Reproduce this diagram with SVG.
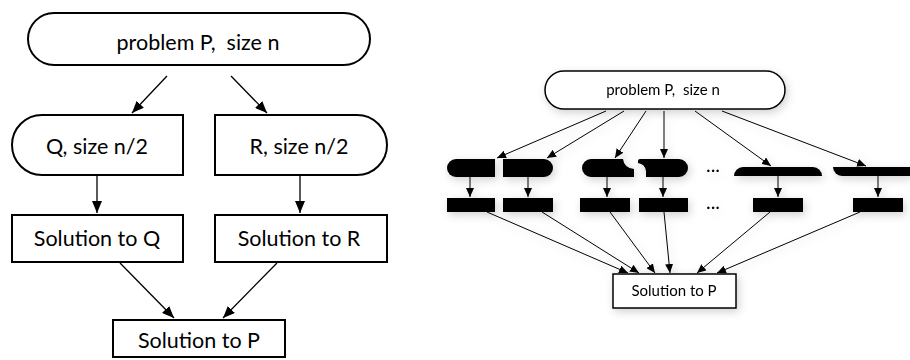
<svg xmlns="http://www.w3.org/2000/svg" width="910" height="360" viewBox="0 0 910 360">
<defs>
<marker id="ahL" markerUnits="userSpaceOnUse" markerWidth="12" markerHeight="10" refX="12" refY="5" orient="auto">
<path d="M0,0 L12,5 L0,10 Z" fill="#000"/>
</marker>
<marker id="ahS" markerUnits="userSpaceOnUse" markerWidth="9" markerHeight="8" refX="9" refY="4" orient="auto">
<path d="M0,0 L9,4 L0,8 Z" fill="#000"/>
</marker>
<filter id="sh" x="-20%" y="-40%" width="140%" height="180%">
<feDropShadow dx="2" dy="3" stdDeviation="4" flood-color="#000" flood-opacity="0.18"/>
</filter>
</defs>
<style>
.nodeL{fill:#fff;stroke:#000;stroke-width:2}
.nodeS{fill:#fff;stroke:#000;stroke-width:1.5}
.blk{fill:#000}
.tL{font-family:Lato,"Open Sans","DejaVu Sans",sans-serif;font-size:21.5px;fill:#000;text-anchor:middle}
.tS{font-family:Lato,"Open Sans","DejaVu Sans",sans-serif;font-size:15px;fill:#000;text-anchor:middle}
.cL{stroke:#000;stroke-width:1.3;fill:none;marker-end:url(#ahL)}
.cS{stroke:#000;stroke-width:1;fill:none;marker-end:url(#ahS)}
.dots{font-family:Lato,"DejaVu Sans",sans-serif;font-size:20px;fill:#000;text-anchor:middle}
</style>
<rect width="910" height="360" fill="#fff"/>

<!-- Left diagram -->
<g id="left-connectors">
<line class="cL" x1="167" y1="76" x2="132" y2="113"/>
<line class="cL" x1="231" y1="76" x2="267" y2="113"/>
<line class="cL" x1="97" y1="175" x2="97" y2="213"/>
<line class="cL" x1="300" y1="175" x2="300" y2="213"/>
<line class="cL" x1="120" y1="263" x2="174" y2="318"/>
<line class="cL" x1="277" y1="263" x2="223" y2="318"/>
</g>
<g id="L-problem">
<rect class="nodeL" x="28" y="13" width="342" height="52" rx="26"/>
<text class="tL" x="198" y="50" xml:space="preserve">problem P,  size n</text>
</g>
<g id="L-Q">
<path class="nodeL" d="M42,115 H183 V175 H42 A30,30 0 0 1 42,115 Z"/>
<text class="tL" x="97" y="154">Q, size n/2</text>
</g>
<g id="L-R">
<path class="nodeL" d="M215,115 H357 A30,30 0 0 1 357,175 H215 Z"/>
<text class="tL" x="299" y="154">R, size n/2</text>
</g>
<g id="L-solQ">
<rect class="nodeL" x="12" y="215" width="171" height="47"/>
<text class="tL" x="97" y="246">Solution to Q</text>
</g>
<g id="L-solR">
<rect class="nodeL" x="215" y="215" width="172" height="47"/>
<text class="tL" x="299" y="246">Solution to R</text>
</g>
<g id="L-solP">
<rect class="nodeL" x="113" y="320" width="172" height="37"/>
<text class="tL" x="199" y="348">Solution to P</text>
</g>

<!-- Right diagram -->
<g filter="url(#sh)">
<g id="right-connectors">
<line class="cS" x1="606" y1="111" x2="497" y2="158"/>
<line class="cS" x1="624" y1="111" x2="547" y2="158"/>
<line class="cS" x1="646" y1="111" x2="615" y2="158"/>
<line class="cS" x1="664" y1="111" x2="664" y2="158"/>
<line class="cS" x1="695" y1="111" x2="771" y2="166"/>
<line class="cS" x1="722" y1="111" x2="866" y2="166"/>
<line class="cS" x1="470" y1="177" x2="470" y2="197"/>
<line class="cS" x1="528" y1="177" x2="528" y2="197"/>
<line class="cS" x1="607" y1="177" x2="607" y2="197"/>
<line class="cS" x1="663" y1="177" x2="663" y2="197"/>
<line class="cS" x1="778" y1="176" x2="778" y2="197"/>
<line class="cS" x1="878" y1="176" x2="878" y2="197"/>
<line class="cS" x1="487" y1="212" x2="628" y2="273"/>
<line class="cS" x1="542" y1="212" x2="639" y2="273"/>
<line class="cS" x1="610" y1="212" x2="655" y2="273"/>
<line class="cS" x1="664" y1="212" x2="670" y2="273"/>
<line class="cS" x1="770" y1="212" x2="697" y2="273"/>
<line class="cS" x1="860" y1="212" x2="717" y2="273"/>
</g>
<g id="R-problem">
<rect class="nodeS" x="545" y="71" width="240" height="38" rx="19"/>
<text class="tS" x="663" y="95" xml:space="preserve">problem P,  size n</text>
</g>
<g id="R-sub1"><path class="blk" d="M456,159 H495 V177 H456 A9,9 0 0 1 456,159 Z"/></g>
<g id="R-sub2"><path class="blk" d="M503,159 H544 A9,9 0 0 1 544,177 H503 Z"/></g>
<g id="R-sub3"><path class="blk" d="M591,159 H623 Q624,168 634,169 V177 H591 A9,9 0 0 1 591,159 Z"/></g>
<g id="R-sub4"><path class="blk" d="M640,159 H679 A9,9 0 0 1 679,177 H646 V171 Q645,164 638,163 V161 Q638,159 640,159 Z"/></g>
<g id="R-sub5"><path class="blk" d="M734,176 A9,9 0 0 1 743,167 H813 A9,9 0 0 1 822,176 Z"/></g>
<g id="R-sub6"><path class="blk" d="M833,167 H910 V176 H842 A9,9 0 0 1 833,167 Z"/></g>
<text class="dots" x="713" y="172">...</text>
<g id="R-sol1"><rect class="blk" x="447" y="198" width="48" height="14"/></g>
<g id="R-sol2"><rect class="blk" x="503" y="198" width="50" height="14"/></g>
<g id="R-sol3"><rect class="blk" x="580" y="198" width="50" height="14"/></g>
<g id="R-sol4"><rect class="blk" x="639" y="198" width="49" height="14"/></g>
<text class="dots" x="713" y="209">...</text>
<g id="R-sol5"><rect class="blk" x="753" y="198" width="50" height="14"/></g>
<g id="R-sol6"><rect class="blk" x="853" y="198" width="50" height="14"/></g>
<g id="R-solP">
<rect class="nodeS" x="613" y="274" width="123" height="34"/>
<text class="tS" x="674" y="296">Solution to P</text>
</g>
</g>
</svg>
